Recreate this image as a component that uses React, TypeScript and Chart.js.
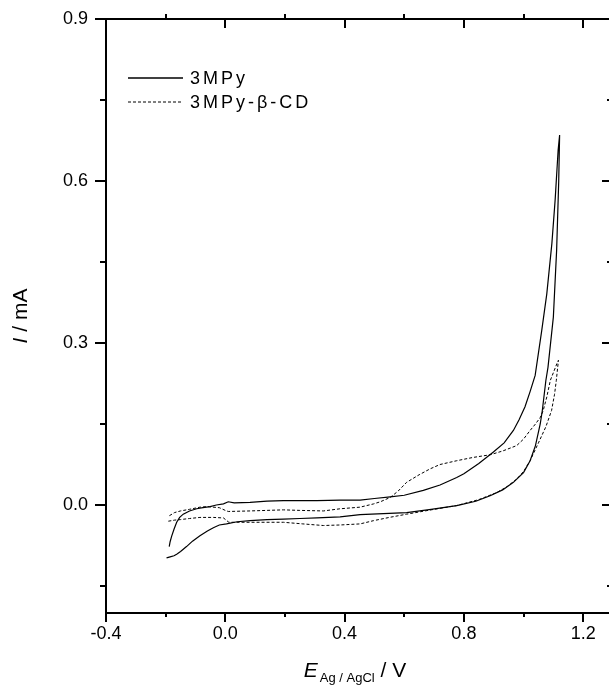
import React, { useEffect, useRef } from "react";
import { Chart, registerables } from "chart.js";

Chart.register(...registerables);

// ---- Data (E in V vs Ag/AgCl, I in mA) ----
const E_3MPY = [
  -0.197, -0.185, -0.172, -0.163, -0.15, -0.13, -0.11, -0.085, -0.06, -0.04, -0.02, 0.004, 0.04, 0.083, 0.14, 0.195, 0.25, 0.307, 0.385, 0.452, 0.53, 0.608, 0.69, 0.776, 0.84, 0.888, 0.93, 0.966, 1.0, 1.022, 1.04, 1.056, 1.063, 1.075, 1.082, 1.1, 1.111, 1.118, 1.121,
  1.116, 1.106, 1.095, 1.078, 1.061, 1.039, 1.022, 1.005, 0.985, 0.966, 0.935, 0.899, 0.85, 0.8, 0.776, 0.72, 0.664, 0.6, 0.553, 0.5, 0.452, 0.385, 0.307, 0.25, 0.195, 0.14, 0.083, 0.03, 0.01, -0.006, -0.03, -0.051, -0.075, -0.096, -0.12, -0.141, -0.153, -0.163, -0.172, -0.18, -0.185, -0.188,
];
const I_3MPY = [
  -0.098, -0.096, -0.094, -0.091, -0.086, -0.077, -0.067, -0.057, -0.048, -0.042, -0.037, -0.035, -0.031, -0.029, -0.027, -0.026, -0.025, -0.024, -0.022, -0.018, -0.016, -0.014, -0.008, -0.001, 0.007, 0.017, 0.028, 0.042, 0.06, 0.082, 0.11, 0.15, 0.175, 0.231, 0.255, 0.348, 0.472, 0.6, 0.685,
  0.657, 0.565, 0.484, 0.391, 0.323, 0.24, 0.21, 0.182, 0.158, 0.138, 0.115, 0.098, 0.077, 0.058, 0.051, 0.037, 0.027, 0.018, 0.015, 0.012, 0.009, 0.009, 0.008, 0.008, 0.008, 0.007, 0.005, 0.004, 0.006, 0.002, 0.0, -0.003, -0.005, -0.007, -0.011, -0.017, -0.023, -0.032, -0.045, -0.058, -0.068, -0.077,
];
const E_CD = [
  -0.191, -0.17, -0.15, -0.12, -0.085, -0.04, -0.006, 0.005, 0.012, 0.083, 0.195, 0.26, 0.329, 0.385, 0.452, 0.497, 0.55, 0.608, 0.69, 0.776, 0.85, 0.91, 0.945, 0.977, 1.0, 1.022, 1.05, 1.075, 1.094, 1.104, 1.11, 1.117,
  1.112, 1.1, 1.09, 1.078, 1.066, 1.056, 1.04, 1.022, 1.0, 0.977, 0.93, 0.888, 0.83, 0.776, 0.72, 0.687, 0.65, 0.608, 0.58, 0.553, 0.52, 0.497, 0.452, 0.385, 0.329, 0.25, 0.195, 0.083, 0.01, 0.0, -0.02, -0.06, -0.085, -0.12, -0.15, -0.17, -0.188,
];
const I_CD = [
  -0.03, -0.028, -0.027, -0.025, -0.023, -0.023, -0.024, -0.029, -0.032, -0.032, -0.032, -0.035, -0.038, -0.037, -0.035, -0.029, -0.023, -0.017, -0.009, -0.001, 0.01, 0.023, 0.034, 0.048, 0.062, 0.082, 0.115, 0.145, 0.175, 0.205, 0.231, 0.268,
  0.262, 0.245, 0.231, 0.2, 0.175, 0.162, 0.15, 0.138, 0.122, 0.11, 0.1, 0.093, 0.088, 0.082, 0.075, 0.067, 0.056, 0.042, 0.026, 0.014, 0.006, 0.002, -0.004, -0.007, -0.011, -0.01, -0.009, -0.011, -0.012, -0.01, -0.005, -0.003, -0.004, -0.008, -0.011, -0.014, -0.02,
];

const SERIES_LABELS = ["3MPy", "3MPy-\u03B2-CD"];

const X_MIN = -0.4;
const X_MAX = 1.3;
const Y_MIN = -0.2;
const Y_MAX = 0.9;
const X_TICKS = [-0.4, 0.0, 0.4, 0.8, 1.2];
const X_MINOR = [-0.2, 0.2, 0.6, 1.0];
const Y_TICKS = [0.0, 0.3, 0.6, 0.9];
const Y_MINOR = [-0.15, 0.15, 0.45, 0.75];

const CANVAS_W = 640;
const CANVAS_H = 685;
const FONT = "'Liberation Sans', Arial, sans-serif";

const framePlugin = {
  id: "frame",
  afterDraw(chart: any) {
    const { ctx, chartArea } = chart;
    const xs = chart.scales.x;
    const ys = chart.scales.y;
    const L = chartArea.left, R = chartArea.right, T = chartArea.top, B = chartArea.bottom;
    ctx.save();
    ctx.strokeStyle = "#000";
    ctx.lineCap = "butt";
    // box
    ctx.lineWidth = 2;
    ctx.beginPath();
    ctx.moveTo(L, T - 1); ctx.lineTo(L, B + 1);
    ctx.moveTo(L - 1, B); ctx.lineTo(R + 1, B);
    ctx.moveTo(L - 1, T); ctx.lineTo(R + 1, T);
    ctx.moveTo(R, T - 1); ctx.lineTo(R, B + 1);
    ctx.stroke();
    // ticks
    const line = (x1: number, y1: number, x2: number, y2: number, w: number) => {
      ctx.lineWidth = w;
      ctx.beginPath(); ctx.moveTo(x1, y1); ctx.lineTo(x2, y2); ctx.stroke();
    };
    X_TICKS.forEach((v) => {
      const px = Math.round(xs.getPixelForValue(v));
      line(px, B, px, B + 9, 2);
      line(px, T, px, T + 9, 2);
    });
    X_MINOR.forEach((v) => {
      const px = Math.round(xs.getPixelForValue(v));
      line(px, B, px, B + 4, 2);
      line(px, T, px, T - 5, 2);
    });
    Y_TICKS.forEach((v) => {
      const py = Math.round(ys.getPixelForValue(v));
      line(L, py, L - 11, py, 2);
      line(R, py, R - 11, py, 2);
    });
    Y_MINOR.forEach((v) => {
      const py = Math.round(ys.getPixelForValue(v));
      line(L, py, L - 6, py, 2);
      line(R, py, R - 6, py, 2);
    });

    // legend
    const ds = chart.data.datasets;
    const legY = [78, 102];
    ds.forEach((d: any, i: number) => {
      ctx.strokeStyle = d.borderColor;
      ctx.lineWidth = i === 0 ? 1.4 : 1;
      ctx.setLineDash(d.borderDash || []);
      ctx.beginPath();
      ctx.moveTo(128, legY[i]);
      ctx.lineTo(183, legY[i]);
      ctx.stroke();
      ctx.setLineDash([]);
      ctx.fillStyle = "#000";
      ctx.font = `18px ${FONT}`;
      (ctx as any).letterSpacing = "3px";
      ctx.textAlign = "left";
      ctx.textBaseline = "middle";
      ctx.fillText(d.label, 190, legY[i] + 1);
      (ctx as any).letterSpacing = "0px";
    });

    // x title: E_{Ag / AgCl} / V
    ctx.fillStyle = "#000";
    ctx.textBaseline = "alphabetic";
    ctx.textAlign = "left";
    const bigFont = `21px ${FONT}`;
    const itFont = `italic 21px ${FONT}`;
    const subFont = `13px ${FONT}`;
    ctx.font = itFont; const wE = ctx.measureText("E").width;
    ctx.font = subFont; const wSub = ctx.measureText("Ag / AgCl").width;
    ctx.font = bigFont; const wV = ctx.measureText(" / V").width;
    const total = wE + 2 + wSub + wV;
    let x0 = 355 - total / 2;
    const base = 677;
    ctx.font = itFont; ctx.fillText("E", x0, base); x0 += wE + 2;
    ctx.font = subFont; ctx.fillText("Ag / AgCl", x0, base + 5); x0 += wSub;
    ctx.font = bigFont; ctx.fillText(" / V", x0, base);

    // y title: I / mA (rotated)
    ctx.save();
    ctx.translate(27, (T + B) / 2);
    ctx.rotate(-Math.PI / 2);
    ctx.font = itFont; const wI = ctx.measureText("I").width;
    ctx.font = bigFont; const wRest = ctx.measureText(" / mA").width;
    let y0 = -(wI + wRest) / 2;
    ctx.font = itFont; ctx.fillText("I", y0, 0); y0 += wI;
    ctx.font = bigFont; ctx.fillText(" / mA", y0, 0);
    ctx.restore();

    ctx.restore();
  },
};

export default function App() {
  const ref = useRef<HTMLCanvasElement | null>(null);
  useEffect(() => {
    if (!ref.current) return;
    const toPts = (xs: number[], ys: number[]) => xs.map((x, i) => ({ x, y: ys[i] }));
    const chart = new Chart(ref.current, {
      type: "scatter",
      data: {
        datasets: [
          {
            label: SERIES_LABELS[0],
            data: toPts(E_3MPY, I_3MPY),
            showLine: true,
            borderColor: "#000",
            borderWidth: 1.2,
            pointRadius: 0,
            tension: 0,
          },
          {
            label: SERIES_LABELS[1],
            data: toPts(E_CD, I_CD),
            showLine: true,
            borderColor: "#000",
            borderWidth: 1,
            borderDash: [3, 2],
            pointRadius: 0,
            tension: 0,
          },
        ],
      },
      options: {
        responsive: false,
        maintainAspectRatio: false,
        devicePixelRatio: 1,
        animation: false,
        layout: { padding: { left: 0, top: 19, right: CANVAS_W - 613, bottom: 0 } },
        plugins: { legend: { display: false }, tooltip: { enabled: false }, title: { display: false } },
        scales: {
          x: {
            type: "linear",
            position: "bottom",
            min: X_MIN,
            max: X_MAX,
            grid: { display: false, drawTicks: false },
            border: { display: false },
            afterBuildTicks: (s: any) => { s.ticks = X_TICKS.map((v) => ({ value: v })); },
            afterFit: (s: any) => { s.height = CANVAS_H - 613; s.paddingLeft = 0; s.paddingRight = 0; },
            ticks: {
              padding: 10,
              color: "#000",
              font: { family: FONT, size: 18 },
              maxRotation: 0,
              autoSkip: false,
              callback: (v: any) => Number(v).toFixed(1),
            },
          },
          y: {
            type: "linear",
            position: "left",
            min: Y_MIN,
            max: Y_MAX,
            grid: { display: false, drawTicks: false },
            border: { display: false },
            afterBuildTicks: (s: any) => { s.ticks = Y_TICKS.map((v) => ({ value: v })); },
            afterFit: (s: any) => { s.width = 106; s.paddingTop = 0; s.paddingBottom = 0; },
            ticks: {
              padding: 18,
              color: "#000",
              font: { family: FONT, size: 18 },
              autoSkip: false,
              callback: (v: any) => Number(v).toFixed(1),
            },
          },
        },
      },
      plugins: [framePlugin],
    } as any);
    return () => chart.destroy();
  }, []);
  return (
    <div style={{ position: "absolute", left: 0, top: 0, width: 609, height: 685, overflow: "hidden", background: "#fff" }}>
      <canvas ref={ref} width={CANVAS_W} height={CANVAS_H} style={{ width: CANVAS_W, height: CANVAS_H, display: "block" }} />
    </div>
  );
}
